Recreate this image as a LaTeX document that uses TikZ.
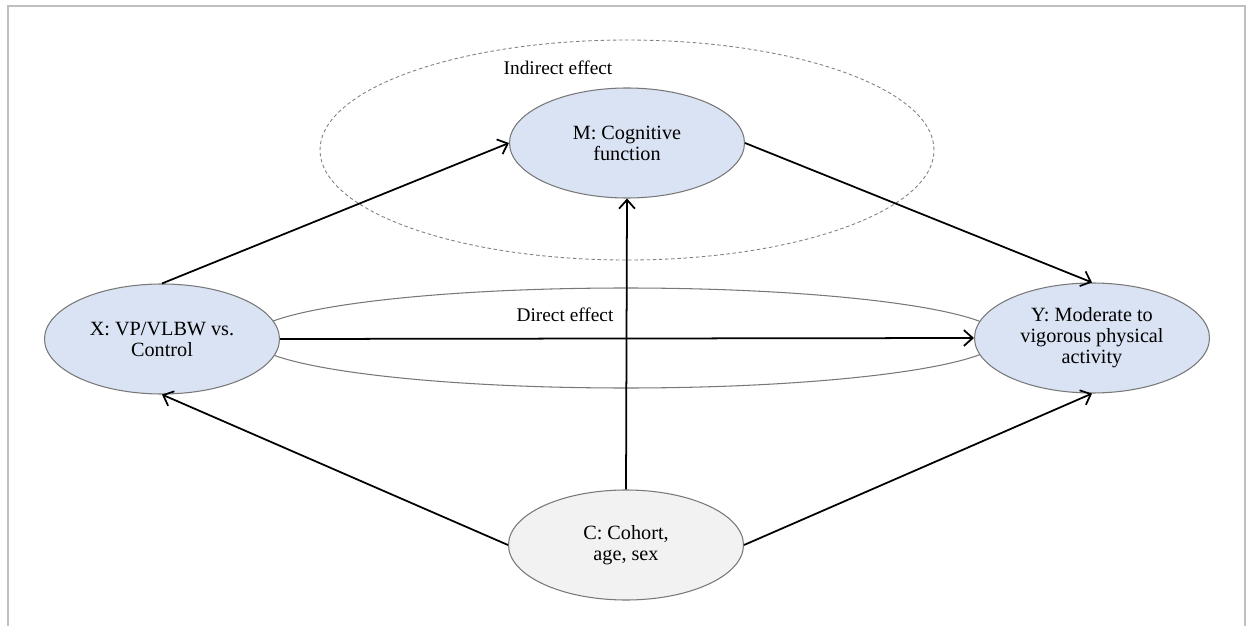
\documentclass[tikz,border=0pt]{standalone}
\usepackage{fontspec}
\setmainfont{Liberation Serif}
\usepackage{tikz}
\usetikzlibrary{arrows.meta, calc, positioning, shapes.geometric}
\definecolor{varblue}{RGB}{218, 227, 243}
\definecolor{covgray}{RGB}{242, 242, 242}
\definecolor{edgegray}{RGB}{120, 120, 120}

\begin{document}
\begin{tikzpicture}[
    var/.style={ellipse, draw=edgegray, line width=0.6pt, fill=varblue, inner sep=0pt,
      minimum width=4.7cm, minimum height=2.2cm, align=center,
      font=\fontsize{11.5}{12}\selectfont},
    arrow/.style={-{Straight Barb[length=5pt, width=9pt, line width=1pt]}, line width=1pt, black},
    label/.style={font=\fontsize{11}{11.5}\selectfont},
  ]
    \useasboundingbox (0,0) rectangle (24.94,12.52);
    \draw[gray!50, line width=0.6pt] (0.16,0) -- (0.16,12.4) -- (24.9,12.4) -- (24.9,0);

    % effect regions
    \node[ellipse, draw=gray, dashed, dash pattern=on 2pt off 1.5pt, line width=0.5pt,
      minimum width=12.28cm, minimum height=4.4cm] (indirect) at (12.54,9.52) {};
    \node[ellipse, draw=edgegray, line width=0.6pt,
      minimum width=15cm, minimum height=2cm] (direct) at (12.52,5.76) {};

    \node[var] (m) at (12.54,9.66) {M: Cognitive\\function};
    \node[var] (x) at (3.24,5.74) {X: VP/VLBW vs.\\Control};
    \node[var] (y) at (21.84,5.76) {Y: Moderate to\\vigorous physical\\activity};
    \node[var, fill=covgray] (c) at (12.52,1.62) {C: Cohort,\\age, sex};

    \node[label] (indlabel) at (11.16,11.16) {Indirect effect};
    \node[label] (dirlabel) at (11.30,6.22) {Direct effect};

    \draw[arrow] (x.north) -- (m.west);
    \draw[arrow] (m.east) -- (y.north);
    \draw[arrow] (x.east) -- (y.west);
    \draw[arrow] (c.north) -- (m.south);
    \draw[arrow] (c.west) -- (x.south);
    \draw[arrow] (c.east) -- (y.south);
  \end{tikzpicture}
\end{document}
